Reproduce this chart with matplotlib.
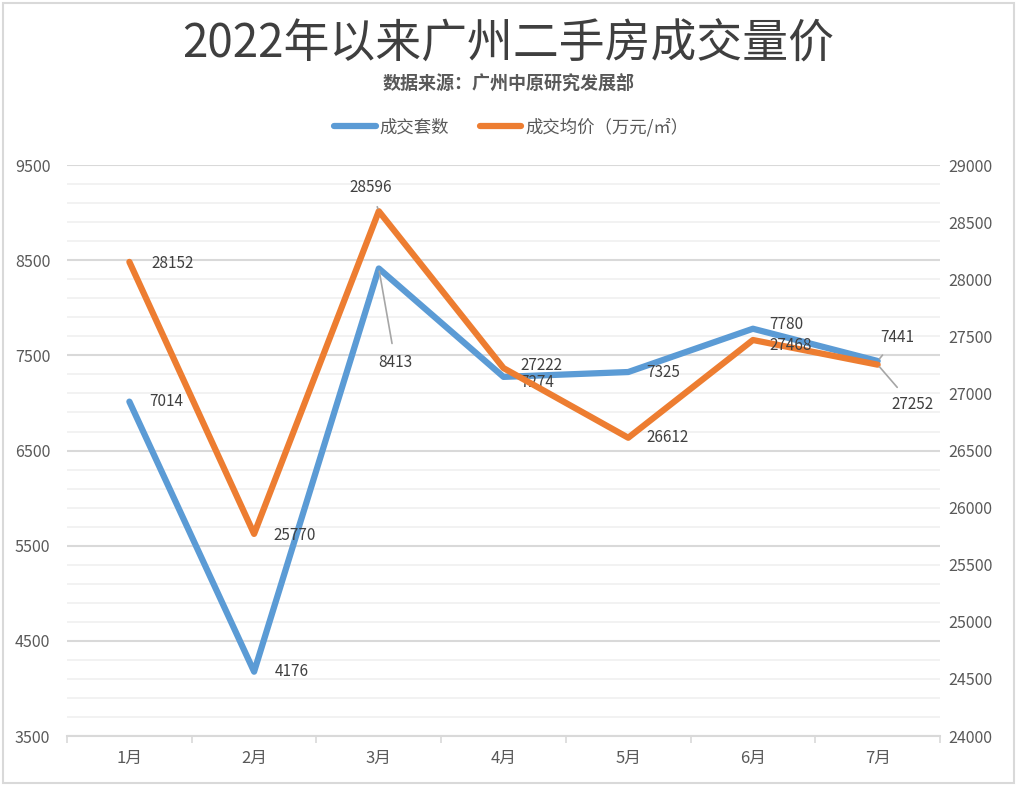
import matplotlib.pyplot as plt
import numpy as np
from matplotlib.patches import Rectangle

plt.rcParams['font.family'] = ['Noto Sans CJK SC', 'DejaVu Sans']

months = ['1月', '2月', '3月', '4月', '5月', '6月', '7月']
volume = [7014, 4176, 8413, 7274, 7325, 7780, 7441]
price = [28152, 25770, 28596, 27222, 26612, 27468, 27252]
left_ticks = [3500, 4500, 5500, 6500, 7500, 8500, 9500]
right_ticks = [24000, 24500, 25000, 25500, 26000, 26500, 27000, 27500, 28000, 28500, 29000]

blue = '#5B9BD5'
orange = '#ED7D31'
txt = '#595959'
lab = '#404040'

fig = plt.figure(figsize=(10.17, 7.86), dpi=100)
fig.patches.append(Rectangle((0.003, 0.004), 0.994, 0.992, transform=fig.transFigure,
                             fill=False, edgecolor='#D9D9D9', lw=1.5))

ax = fig.add_axes([0.0659, 0.0636, 0.8584, 0.7264])
ax2 = ax.twinx()

x = np.arange(len(months))

ax.plot(x, volume, color=blue, lw=4.5, solid_joinstyle='round', solid_capstyle='round',
        label='成交套数', zorder=3)
ax2.plot(x, price, color=orange, lw=4.5, solid_joinstyle='round', solid_capstyle='round',
         label='成交均价（万元/㎡）', zorder=3)

ax.set_xlim(-0.5, len(months) - 0.5)
ax.set_ylim(3500, 9500)
ax2.set_ylim(24000, 29000)

ax.set_yticks(left_ticks)
ax.set_yticks(np.arange(3500, 9501, 200), minor=True)
ax2.set_yticks(right_ticks)
ax.grid(True, which='major', axis='y', color='#D9D9D9', lw=1.5, zorder=0)
ax.grid(True, which='minor', axis='y', color='#F0F0F0', lw=1.2, zorder=0)
ax.set_axisbelow(True)

ax.set_xticks(x)
ax.set_xticklabels(months, fontsize=12, color=txt)
ax.set_xticks(np.arange(-0.5, len(months), 1), minor=True)
ax.tick_params(axis='x', which='major', length=0, pad=10)
ax.tick_params(axis='x', which='minor', length=5, color='#D9D9D9', width=1.2)
ax.tick_params(axis='y', which='both', length=0, labelsize=11.5, labelcolor=txt, pad=12)
ax2.tick_params(axis='y', length=0, labelsize=11.5, labelcolor=txt, pad=6)

for a in (ax, ax2):
    for s in ('left', 'right', 'top'):
        a.spines[s].set_visible(False)
ax.spines['bottom'].set_color('#D9D9D9')
ax.spines['bottom'].set_linewidth(1.5)
ax2.spines['bottom'].set_visible(False)

# label offsets in points (dx, dy, ha, leader)
vol_pos = [(14, 0, 'left', False), (15, 0, 'left', False), (12, -68, 'center', True),
           (12, -4, 'left', False), (13, 0, 'left', False), (12, 3, 'left', False),
           (14, 17, 'center', True)]
price_pos = [(16, -1, 'left', False), (14, -1, 'left', False), (-6, 17, 'center', True),
             (12, 2, 'left', False), (13, 0, 'left', False), (12, -4, 'left', False),
             (25, -29, 'center', True)]

for axis, vals, pos in ((ax, volume, vol_pos), (ax2, price, price_pos)):
    for xi, v, (dx, dy, ha, lead) in zip(x, vals, pos):
        kw = {}
        if lead:
            kw['arrowprops'] = dict(arrowstyle='-', color='#A6A6A6', lw=1.2,
                                    shrinkA=6, shrinkB=2)
        axis.annotate(str(v), (xi, v), xytext=(dx, dy), textcoords='offset points',
                      ha=ha, va='center', fontsize=11, color=lab, zorder=5, **kw)

fig.text(0.5, 1 - 44 / 786, '2022年以来广州二手房成交量价', ha='center', va='center',
         fontsize=33, color='#3F3F3F')
fig.text(0.5, 1 - 83 / 786, '数据来源：广州中原研究发展部', ha='center', va='center',
         fontsize=13, color=txt, fontweight='bold')

h1, l1 = ax.get_legend_handles_labels()
h2, l2 = ax2.get_legend_handles_labels()
fig.legend(h1 + h2, l1 + l2, loc='center', bbox_to_anchor=(511 / 1017, 1 - 127 / 786),
           ncol=2, frameon=False, fontsize=12.5, labelcolor=txt, handlelength=2.4,
           handletextpad=0.2, columnspacing=1.8)

fig.savefig('out.png', dpi=100)
